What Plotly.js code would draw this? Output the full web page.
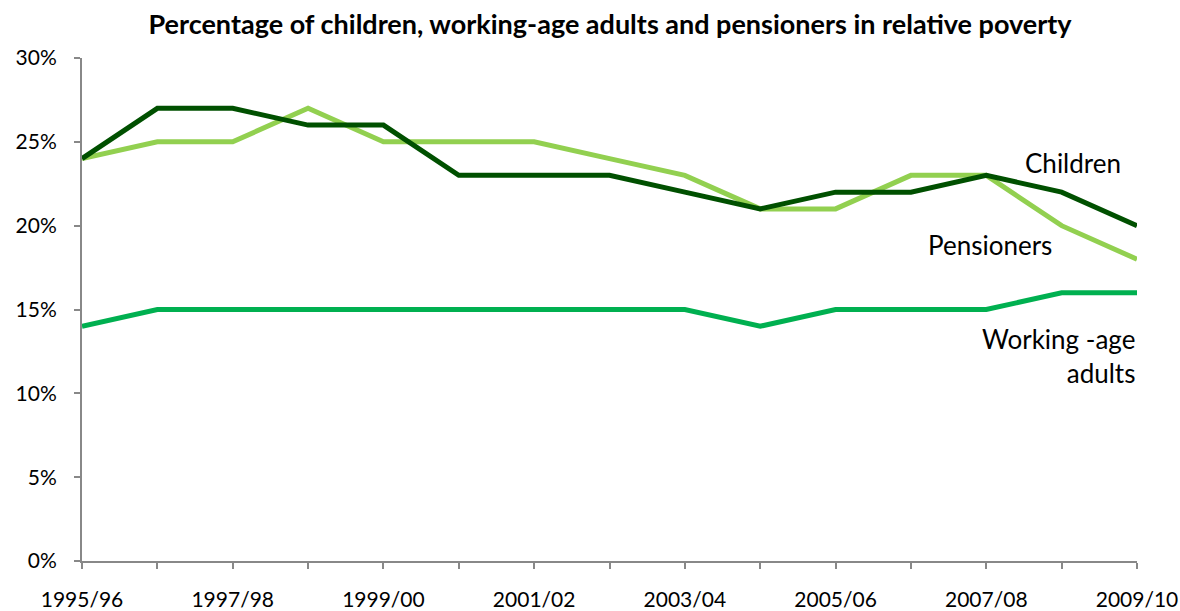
<!DOCTYPE html>
<html>
<head>
<meta charset="utf-8">
<script src="https://cdn.plot.ly/plotly-3.0.1.min.js"></script>
<style>html,body{margin:0;padding:0;background:#fff}#chart{width:1180px;height:611px}</style>
</head>
<body>
<div id="chart"></div>
<script>
const years = ["1995/96","1996/97","1997/98","1998/99","1999/00","2000/01","2001/02","2002/03","2003/04","2004/05","2005/06","2006/07","2007/08","2008/09","2009/10"];
const children = [24,27,27,26,26,23,23,23,22,21,22,22,23,22,20];
const pensioners = [24,25,25,27,25,25,25,24,23,21,21,23,23,20,18];
const workingAge = [14,15,15,15,15,15,15,15,15,14,15,15,15,16,16];
const yTicks = [0,5,10,15,20,25,30];

const font = "Lato, 'Open Sans', sans-serif";
const traces = [
  {x: years, y: workingAge, name: "Working-age adults", mode: "lines", line: {color: "#00b050", width: 5}},
  {x: years, y: pensioners, name: "Pensioners", mode: "lines", line: {color: "#92d050", width: 5}},
  {x: years, y: children, name: "Children", mode: "lines", line: {color: "#005000", width: 5}}
];
const layout = {
  width: 1180, height: 611,
  margin: {l: 82, r: 43, t: 58, b: 50},
  paper_bgcolor: "#fff", plot_bgcolor: "#fff",
  showlegend: false,
  title: {text: "<b>Percentage of children, working-age adults and pensioners in relative poverty</b>", x: 0.517, xanchor: "center", y: 0.96, yanchor: "middle", font: {family: font, size: 27, color: "#000"}},
  xaxis: {
    type: "category", range: [0, years.length - 1],
    tickmode: "array", tickvals: years,
    ticktext: years.map((y, i) => i % 2 === 0 ? y : ""),
    ticks: "outside", ticklen: 6, tickcolor: "#888", tickwidth: 2,
    showline: true, linecolor: "#888", linewidth: 2,
    showgrid: false, zeroline: false,
    ticklabelstandoff: 13,
    tickfont: {family: font, size: 21, color: "#000"}
  },
  yaxis: {
    range: [0, 30], tickmode: "array", tickvals: yTicks,
    ticktext: yTicks.map(v => v + "%"),
    ticks: "outside", ticklen: 6, tickcolor: "#888", tickwidth: 2,
    showline: true, linecolor: "#888", linewidth: 2,
    showgrid: false, zeroline: false,
    ticklabelstandoff: 13,
    tickfont: {family: font, size: 21, color: "#000"}
  },
  annotations: [
    {x: 13.15, y: 23.75, xref: "x", yref: "y", text: "Children", showarrow: false, xanchor: "center", yanchor: "middle", font: {family: font, size: 26, color: "#000"}},
    {x: 12.05, y: 18.85, xref: "x", yref: "y", text: "Pensioners", showarrow: false, xanchor: "center", yanchor: "middle", font: {family: font, size: 26, color: "#000"}},
    {x: 14, y: 12.2, xref: "x", yref: "y", text: "Working -age<br>adults", align: "right", showarrow: false, xanchor: "right", yanchor: "middle", font: {family: font, size: 26, color: "#000"}}
  ]
};
Plotly.newPlot("chart", traces, layout, {displayModeBar: false, staticPlot: true});
</script>
</body>
</html>
